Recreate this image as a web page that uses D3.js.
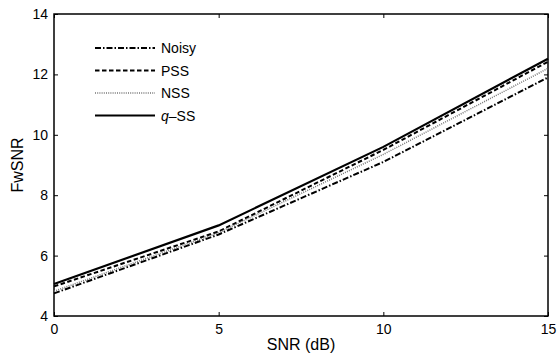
<!DOCTYPE html>
<html>
<head>
<meta charset="utf-8">
<script src="https://cdn.jsdelivr.net/npm/d3@7"></script>
<style>
  body { margin: 0; background: #fff; }
  text { font-family: "Liberation Sans", Arial, sans-serif; fill: #000; }
</style>
</head>
<body>
<div id="chart"></div>
<script>
// SNR levels (dB) and FwSNR per method
const snrLevels = [0, 5, 10, 15];
const noisy = [4.75, 6.70, 9.10, 11.90];
const pss   = [4.98, 6.80, 9.50, 12.42];
const nss   = [4.82, 6.76, 9.35, 12.20];
const qss   = [5.06, 7.00, 9.60, 12.52];
const xTicks = [0, 5, 10, 15];
const yTicks = [4, 6, 8, 10, 12, 14];

const series = [
  {name: "Noisy", values: noisy, dash: "6,2,1.5,2", width: 2},
  {name: "PSS",   values: pss,   dash: "4.5,2.5",   width: 2},
  {name: "NSS",   values: nss,   dash: "1,1.2",     width: 1.5, color: "#777"},
  {name: "q-SS",  values: qss,   dash: null,        width: 2.2}
];

const W = 559, H = 355;
const margin = {top: 14, right: 11, bottom: 39, left: 54};
const width = W - margin.left - margin.right;
const height = H - margin.top - margin.bottom;

const svg = d3.select("#chart").append("svg")
  .attr("width", W).attr("height", H);
const g = svg.append("g")
  .attr("transform", `translate(${margin.left},${margin.top})`);

const x = d3.scaleLinear().domain([0, 15]).range([0, width]);
const y = d3.scaleLinear().domain([4, 14]).range([height, 0]);

// axes with inward ticks on all four sides
function styleAxis(sel) {
  sel.select(".domain").remove();
  sel.selectAll("line").attr("stroke", "#000").attr("stroke-width", 1);
  sel.selectAll("text").style("font-size", "14px");
}
g.append("g").attr("transform", `translate(0,${height})`)
  .call(d3.axisBottom(x).tickValues(xTicks).tickSizeInner(-4).tickSizeOuter(0).tickPadding(8))
  .call(styleAxis);
g.append("g")
  .call(d3.axisTop(x).tickValues(xTicks).tickSizeInner(-4).tickSizeOuter(0).tickFormat(""))
  .call(styleAxis);
g.append("g")
  .call(d3.axisLeft(y).tickValues(yTicks).tickSizeInner(-4).tickSizeOuter(0).tickPadding(6))
  .call(styleAxis);
g.append("g").attr("transform", `translate(${width},0)`)
  .call(d3.axisRight(y).tickValues(yTicks).tickSizeInner(-4).tickSizeOuter(0).tickFormat(""))
  .call(styleAxis);

g.append("rect")
  .attr("width", width).attr("height", height)
  .attr("fill", "none").attr("stroke", "#000").attr("stroke-width", 1.5);

const line = d3.line()
  .x((d, i) => x(snrLevels[i]))
  .y(d => y(d));

g.selectAll(".series")
  .data(series)
  .enter().append("path")
  .attr("class", "series")
  .attr("d", d => line(d.values))
  .attr("fill", "none")
  .attr("stroke", d => d.color || "#000")
  .attr("stroke-width", d => d.width)
  .attr("stroke-dasharray", d => d.dash);

// legend
const legend = g.append("g").attr("transform", "translate(41,34)");
series.forEach((s, i) => {
  const row = legend.append("g").attr("transform", `translate(0,${i * 22.5})`);
  row.append("line")
    .attr("x1", 0).attr("x2", 60)
    .attr("stroke", s.color || "#000")
    .attr("stroke-width", s.width)
    .attr("stroke-dasharray", s.dash);
  const t = row.append("text").attr("x", 66).attr("y", 5).style("font-size", "14px");
  if (s.name === "q-SS") {
    t.append("tspan").style("font-style", "italic").text("q");
    t.append("tspan").text("\u2013SS");
  } else {
    t.text(s.name);
  }
});

// axis titles
svg.append("text")
  .attr("x", margin.left + width / 2).attr("y", 350)
  .attr("text-anchor", "middle").style("font-size", "16px")
  .text("SNR (dB)");
svg.append("text")
  .attr("transform", `translate(23,${margin.top + height / 2}) rotate(-90)`)
  .attr("text-anchor", "middle").style("font-size", "16px")
  .text("FwSNR");
</script>
</body>
</html>
